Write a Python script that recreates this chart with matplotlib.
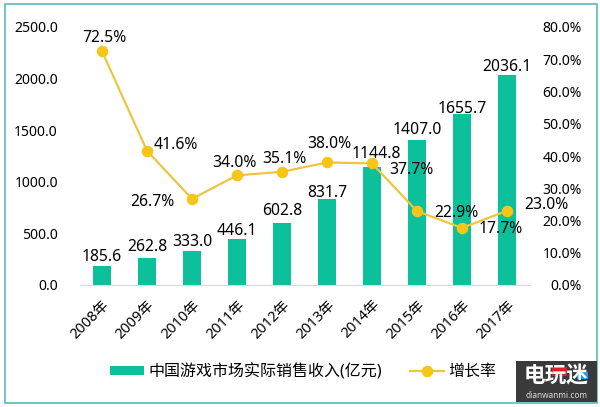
import matplotlib.pyplot as plt
from matplotlib.patches import Rectangle

plt.rcParams['font.family'] = ['Noto Sans', 'Noto Sans CJK SC', 'DejaVu Sans']

years = ['2008年', '2009年', '2010年', '2011年', '2012年', '2013年', '2014年', '2015年', '2016年', '2017年']
revenue = [185.6, 262.8, 333.0, 446.1, 602.8, 831.7, 1144.8, 1407.0, 1655.7, 2036.1]
growth = [72.5, 41.6, 26.7, 34.0, 35.1, 38.0, 37.7, 22.9, 17.7, 23.0]
left_ticks = [0, 500, 1000, 1500, 2000, 2500]
right_ticks = [0, 10, 20, 30, 40, 50, 60, 70, 80]

# Décalage des étiquettes (points)
revenue_offsets = [(0, 6.5), (0, 8), (0, 6.5), (0, 6), (0, 8.5), (0, 4.5), (3, 9), (0, 7), (0, 4), (0, 5.5)]
growth_offsets = [(2, 9.5), (21, 4), (-28.5, -2), (-1.5, 9), (2, 9), (2, 13), (28, -5), (28, -1), (28, -1), (28, 4)]

W, H = 600, 407
fig = plt.figure(figsize=(6.0, 4.07), dpi=100)
ax1 = plt.axes([79.5 / W, 1 - 285 / H, 450 / W, 258 / H])

# Les barres
plt.bar(years, revenue, width=0.4, color='#0CC09C', label='中国游戏市场实际销售收入(亿元)')

plt.xlim(-0.5, 9.5)
plt.ylim(0, 2500)
plt.yticks(left_ticks, [f'{t:.1f}' for t in left_ticks], fontsize=10.1)
plt.xticks(rotation=45, fontsize=10.4)
plt.tick_params(axis='y', length=0, pad=15.5)
plt.tick_params(axis='x', length=0, pad=9)
plt.setp(ax1.get_xticklabels(), ha='right', rotation_mode='anchor')
for side in ['top', 'left', 'right']:
    ax1.spines[side].set_visible(False)
ax1.spines['bottom'].set_color('#D9D9D9')

# La courbe du taux de croissance
ax2 = plt.twinx()
plt.plot(range(10), growth, color='#EDC53F', linewidth=1.6, marker='o', markersize=7.3,
         markerfacecolor='#F5C518', markeredgecolor='#F5C518', label='增长率')

plt.ylim(0, 80)
plt.yticks(right_ticks, [f'{t:.1f}%' for t in right_ticks], fontsize=10.1)
plt.tick_params(axis='y', length=0, pad=37.8)
plt.setp(ax2.get_yticklabels(), ha='right')
for side in ['top', 'left', 'right', 'bottom']:
    ax2.spines[side].set_visible(False)

# Les étiquettes, au-dessus de la courbe
for i, v in enumerate(revenue):
    ax2.annotate(f'{v:.1f}', (i, v / 2500 * 80), xytext=revenue_offsets[i], textcoords='offset points',
                 ha='center', va='center', fontsize=11.3)
for i, v in enumerate(growth):
    ax2.annotate(f'{v:.1f}%', (i, v), xytext=growth_offsets[i], textcoords='offset points',
                 ha='center', va='center', fontsize=11.3)

# Légende
handles = ax1.get_legend_handles_labels()[0] + ax2.get_legend_handles_labels()[0]
labels = ax1.get_legend_handles_labels()[1] + ax2.get_legend_handles_labels()[1]
fig.legend(handles, labels, loc='center', bbox_to_anchor=(303.5 / W, 1 - 372 / H), ncol=2, frameon=False,
           fontsize=11.5, handlelength=2.1, handleheight=0.55, columnspacing=1.75, handletextpad=0.3, borderpad=0)

# Cadre et filigrane
fig.add_artist(Rectangle((4.5 / W, 1 - 402.5 / H), 592.5 / W, 399 / H, transform=fig.transFigure,
                         fill=False, edgecolor='#5DB7BD', linewidth=1.2))
fig.add_artist(Rectangle((516 / W, 1 - 402 / H), 81 / W, 41 / H, transform=fig.transFigure,
                         facecolor='#3A3A3A', edgecolor='none'))
fig.add_artist(Rectangle((552 / W, 1 - 376 / H), 15 / W, 9 / H, transform=fig.transFigure,
                         facecolor='#E02020', edgecolor='none'))
fig.add_artist(Rectangle((577 / W, 1 - 379 / H), 11 / W, 7 / H, transform=fig.transFigure,
                         facecolor='#1E9BE8', edgecolor='none'))
fig.text(556.5 / W, 1 - 377 / H, '电玩迷', color='white', fontsize=15.6, fontweight='bold', ha='center', va='center')
fig.text(556.5 / W, 1 - 396 / H, 'dianwanmi.com', color='#DDDDDD', fontsize=5.9, ha='center', va='center')

plt.savefig('out.png', dpi=100)
